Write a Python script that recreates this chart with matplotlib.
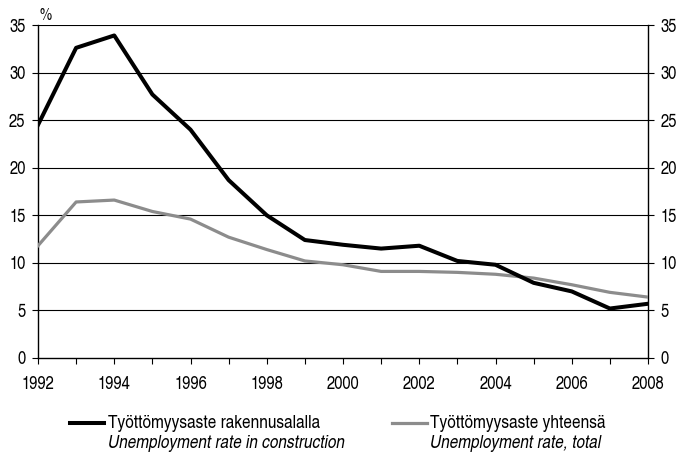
import matplotlib
matplotlib.use("Agg")
import matplotlib.pyplot as plt
from matplotlib.lines import Line2D

years = list(range(1992, 2009))
construction = [24.5, 32.6, 33.9, 27.7, 24.0, 18.7, 15.0, 12.4, 11.9, 11.5, 11.8, 10.2, 9.8, 7.9, 7.0, 5.2, 5.7]
total = [11.8, 16.4, 16.6, 15.4, 14.6, 12.7, 11.4, 10.2, 9.8, 9.1, 9.1, 9.0, 8.8, 8.4, 7.7, 6.9, 6.4]
yticks = [0, 5, 10, 15, 20, 25, 30, 35]
label_fi = ["Työttömyysaste rakennusalalla", "Työttömyysaste yhteensä"]
label_en = ["Unemployment rate in construction", "Unemployment rate, total"]

plt.rcParams['font.family'] = ['TeX Gyre Heros Cn', 'Liberation Sans', 'DejaVu Sans']

W, H = 682, 457
fig = plt.figure(figsize=(W/100, H/100), dpi=100)
ax = fig.add_axes([38/W, 1-358/H, (648-38)/W, (358-25)/H])

ax.plot(years, total, color='#8c8c8c', lw=2.3, zorder=3)
ax.plot(years, construction, color='black', lw=2.9, zorder=4)

ax.set_xlim(1992, 2008)
ax.set_ylim(0, 35)
ax.set_yticks(yticks)
ax.set_xticks(years)
ax.set_xticklabels([str(y) if (y % 2 == 0) else '' for y in years])
for y in yticks[1:]:
    ax.axhline(y, color='black', lw=0.8, zorder=1)
ax.spines['top'].set_visible(False)
for s in ['left', 'right', 'bottom']:
    ax.spines[s].set_linewidth(1.0)
ax.tick_params(axis='both', direction='out', length=4, width=0.8, labelsize=13)
ax.tick_params(axis='x', pad=9)
ax.tick_params(axis='y', pad=5, right=True, labelright=True)
ax.text(40/W, 1-16/H, '%', transform=fig.transFigure, fontsize=12, ha='left', va='center')

# legend
handles_x = [(70, 104), (392, 427)]
text_x = [108, 430]
for i in range(2):
    x0, x1 = handles_x[i]
    col = 'black' if i == 0 else '#8c8c8c'
    fig.add_artist(Line2D([x0/W, x1/W], [1-423/H, 1-423/H], color=col,
                          lw=2.9 if i == 0 else 2.3, transform=fig.transFigure))
    fig.text(text_x[i]/W, 1-423/H, label_fi[i], fontsize=13.5, ha='left', va='center')
    fig.text(text_x[i]/W, 1-444/H, label_en[i], fontsize=13.5, ha='left', va='center', style='italic')

fig.savefig('out.png', dpi=100)
